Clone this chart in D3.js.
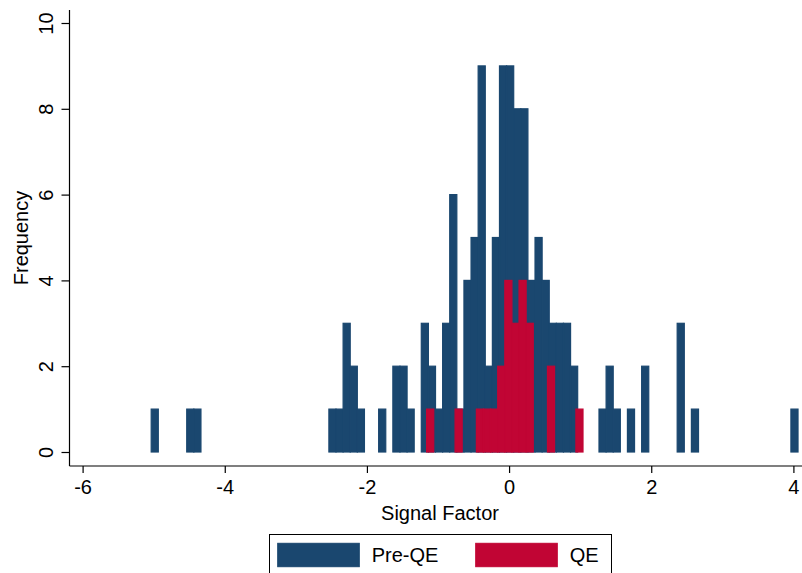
<!DOCTYPE html>
<html>
<head>
<meta charset="utf-8">
<script src="https://cdn.jsdelivr.net/npm/d3@7"></script>
<style>
  body { margin: 0; background: #fff; }
  svg { display: block; font-family: Arial, "Liberation Sans", Helvetica, sans-serif; }
</style>
</head>
<body>
<svg width="802" height="573"></svg>
<script>
var svg = d3.select("svg"),
  width = +svg.attr("width"),
  height = +svg.attr("height");

// bin layout (width 0.1)
var binWidth = 0.1;
var preStart = -5.035;
var qeStart = -1.16;

// Pre-QE frequencies, one per bin from preStart
var preCounts = [
  1, 0, 0, 0, 0, 1, 1, 0, 0, 0,
  0, 0, 0, 0, 0, 0, 0, 0, 0, 0,
  0, 0, 0, 0, 0, 1, 1, 3, 2, 1,
  0, 0, 1, 0, 2, 2, 1, 0, 3, 2,
  1, 3, 6, 1, 4, 5, 9, 2, 5, 9,
  9, 8, 8, 4, 5, 4, 3, 3, 3, 2,
  0, 0, 0, 1, 2, 1, 0, 1, 0, 2,
  0, 0, 0, 0, 3, 0, 1, 0, 0, 0,
  0, 0, 0, 0, 0, 0, 0, 0, 0, 0,
  1
];

// QE frequencies, one per bin from qeStart
var qeCounts = [
  1, 0, 0, 0, 1, 0, 0, 1, 1, 1,
  2, 4, 3, 4, 3, 0, 0, 2, 0, 0,
  0, 1
];

var xTicks = [-6, -4, -2, 0, 2, 4];
var yTicks = [0, 2, 4, 6, 8, 10];
var seriesNames = ["Pre-QE", "QE"];
var seriesColors = ["#1a476f", "#c10534"];

const x = d3.scaleLinear().domain([-6, 4]).range([82.6, 793.4]);
const y = d3.scaleLinear().domain([0, 10]).range([452, 23]);

function toBins(start, counts) {
  return counts.map(function (c, i) {
    return { x0: start + i * binWidth, x1: start + (i + 1) * binWidth, n: c };
  }).filter(function (d) { return d.n > 0; });
}

function drawBars(bins, color) {
  svg.append("g")
    .selectAll("rect")
    .data(bins)
    .enter()
    .append("rect")
    .attr("x", function (d) { return x(d.x0); })
    .attr("y", function (d) { return y(d.n); })
    .attr("width", function (d) { return x(d.x1) - x(d.x0); })
    .attr("height", function (d) { return y(0) - y(d.n); })
    .attr("fill", color)
    .attr("stroke", color)
    .attr("stroke-width", 1.2);
}

drawBars(toBins(preStart, preCounts), seriesColors[0]);
drawBars(toBins(qeStart, qeCounts), seriesColors[1]);

// axes
const axisY = 466, axisX = 69.5;
svg.append("line")
  .attr("x1", axisX).attr("x2", axisX)
  .attr("y1", 10).attr("y2", axisY)
  .attr("stroke", "#000").attr("stroke-width", 1.2);
svg.append("line")
  .attr("x1", axisX).attr("x2", width)
  .attr("y1", axisY).attr("y2", axisY)
  .attr("stroke", "#000").attr("stroke-width", 1.2);

const xAxis = d3.axisBottom(x).tickValues(xTicks).tickSize(7).tickPadding(7)
  .tickFormat(function (d) { return String(d); });
const gx = svg.append("g").attr("transform", "translate(0," + axisY + ")").call(xAxis);
gx.select(".domain").remove();
gx.selectAll("line").attr("stroke", "#000").attr("stroke-width", 1.2);
gx.selectAll("text").attr("font-size", 20).attr("fill", "#000").attr("font-family", null);

const yAxis = d3.axisLeft(y).tickValues(yTicks).tickSize(8)
  .tickFormat(function (d) { return String(d); });
const gy = svg.append("g").attr("transform", "translate(" + axisX + ",0)").call(yAxis);
gy.select(".domain").remove();
gy.selectAll("line").attr("stroke", "#000").attr("stroke-width", 1.2);
gy.selectAll("text")
  .attr("font-size", 20).attr("fill", "#000").attr("font-family", null)
  .attr("x", null).attr("dy", null)
  .attr("transform", "translate(-17,0) rotate(-90)")
  .style("text-anchor", "middle");

// titles
svg.append("text")
  .attr("transform", "translate(440,520)")
  .style("text-anchor", "middle")
  .attr("font-size", 20)
  .attr("fill", "black")
  .text("Signal Factor");
svg.append("text")
  .attr("transform", "translate(28,238) rotate(-90)")
  .style("text-anchor", "middle")
  .attr("font-size", 20)
  .attr("fill", "black")
  .text("Frequency");

// legend
const legend = svg.append("g");
legend.append("rect")
  .attr("x", 269.5).attr("y", 534.5)
  .attr("width", 342).attr("height", 50)
  .attr("fill", "#fff").attr("stroke", "#000").attr("stroke-width", 1);
var legendX = [277.7, 475.7];
seriesNames.forEach(function (name, i) {
  legend.append("rect")
    .attr("x", legendX[i]).attr("y", 543.3)
    .attr("width", 81.6).attr("height", 23.4)
    .attr("fill", seriesColors[i])
    .attr("stroke", seriesColors[i]).attr("stroke-width", 1);
  legend.append("text")
    .attr("x", legendX[i] + 94).attr("y", 562)
    .attr("font-size", 20)
    .attr("fill", "black")
    .text(name);
});
</script>
</body>
</html>
